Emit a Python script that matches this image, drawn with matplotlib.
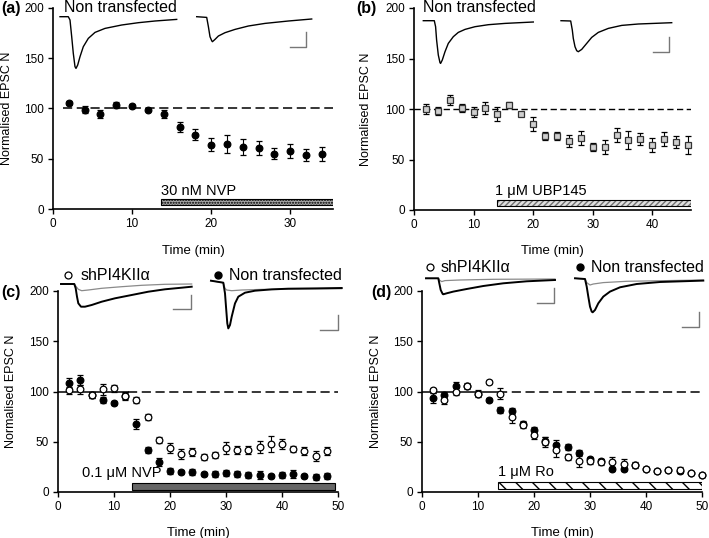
import numpy as np
import matplotlib
matplotlib.use('Agg')
import matplotlib.pyplot as plt
from matplotlib.patches import Rectangle

plt.rcParams['font.family'] = ['Liberation Sans', 'DejaVu Sans']
plt.rcParams['hatch.linewidth'] = 1.0

# ---- data ----
# (a) 30 nM NVP, non transfected
a_t = [2, 4, 6, 8, 10, 12, 14, 16, 18, 20, 22, 24, 26, 28, 30, 32, 34]
a_y = [105, 99, 95, 103, 102, 99, 95, 82, 74, 64, 65, 62, 61, 55, 58, 54, 55]
a_e = [2, 3, 4, 3, 2, 1.5, 4, 5, 5.5, 6.5, 9, 8, 7, 5.5, 7, 6, 7]

# (b) 1 uM UBP145, non transfected
b_t = [2, 4, 6, 8, 10, 12, 14, 16, 18, 20, 22, 24, 26, 28, 30, 32, 34, 36, 38, 40, 42, 44, 46]
b_y = [100, 98, 109, 101, 97, 101, 95, 104, 95, 85, 73, 73, 68, 71, 62, 62, 74, 69, 70, 64, 70, 67, 64]
b_e = [5, 4, 5, 4, 5, 6, 7, 3, 2, 7, 4, 4, 6, 7, 4, 7, 7, 9, 6, 7, 7, 6, 9]

# (c) 0.1 uM NVP
c_t = [2, 4, 6, 8, 10, 12, 14, 16, 18, 20, 22, 24, 26, 28, 30, 32, 34, 36, 38, 40, 42, 44, 46, 48]
c_sh = [101, 102, 97, 102, 103, 96, 92, 75, 52, 44, 38, 40, 35, 37, 44, 42, 42, 45, 48, 48, 43, 41, 36, 41]
c_sh_e = [3, 4, 3, 5, 3, 4, 3, 3, 3, 5, 5, 4, 3, 3, 6, 4, 4, 6, 8, 5, 3, 4, 5, 4]
c_nt = [108, 111, 97, 92, 89, 96, 68, 42, 30, 21, 20, 20, 18, 18, 19, 18, 17, 17, 16, 17, 18, 16, 15, 16]
c_nt_e = [5, 5, 3, 3, 2, 3, 5, 3, 4, 3, 2, 3, 2, 3, 3, 3, 3, 4, 2, 3, 4, 2, 3, 3]

# (d) 1 uM Ro
d_t = [2, 4, 6, 8, 10, 12, 14, 16, 18, 20, 22, 24, 26, 28, 30, 32, 34, 36, 38, 40, 42, 44, 46, 48, 50]
d_sh = [101, 92, 100, 105, 98, 109, 98, 75, 67, 57, 50, 42, 35, 31, 31, 30, 30, 28, 27, 23, 21, 22, 22, 19, 17]
d_sh_e = [2, 4, 3, 3, 3, 2, 5, 6, 3, 4, 5, 7, 3, 6, 3, 3, 5, 5, 3, 2, 2, 2, 3, 1, 2]
d_nt = [94, 97, 105, 105, 98, 92, 82, 81, 68, 62, 51, 47, 45, 39, 33, 31, 23, 23, 27, 23, 21, 22, 21, 19, 17]
d_nt_e = [5, 3, 4, 2, 2, 2, 3, 3, 3, 3, 4, 5, 3, 3, 2, 2, 2, 2, 2, 2, 2, 2, 2, 1, 2]

# example EPSC traces (time, current; arbitrary units)
tr_a1_t = [0, 8.3, 10, 11.7, 13.3, 15, 16, 17.7, 20, 23.3, 28.3, 35, 45, 61.7, 78.3, 95, 116.7]
tr_a1_i = [0, 0, -3.3, -20, -36.7, -50, -51.7, -48.3, -40, -30, -21.7, -15.7, -11.7, -8.3, -6, -4.3, -2.7]
tr_a2_t = [0, 10, 11.7, 13.3, 15, 15.7, 18.3, 21.7, 28.3, 38.3, 51.7, 68.3, 91.7, 115]
tr_a2_i = [0, -0.7, -10, -20, -24, -25, -22.7, -19.3, -16, -12.7, -9.3, -6.7, -4.3, -2.3]
tr_b1_t = [0, 11, 12.3, 13.3, 15, 16.7, 17.3, 19, 21.7, 25, 30, 35, 41.7, 51.7, 65, 81.7, 110]
tr_b1_i = [0, 0, -6, -19.3, -34.3, -42, -42.7, -39.3, -31, -22.7, -16, -11.7, -8.7, -6, -4, -2.7, -1.3]
tr_b2_t = [0, 9.7, 11.3, 12.3, 14, 15.7, 17.3, 20.7, 25.7, 30.7, 37.3, 47.3, 60.7, 77.3, 110.7]
tr_b2_i = [0, -0.3, -9.3, -17.7, -26, -30, -31, -28.7, -22.7, -16.7, -11.7, -7.7, -4.7, -3.3, -2]
tr_c1k_t = [0, 13.3, 14.7, 16, 17.3, 20, 24, 30.7, 40.7, 54, 70.7, 87.3, 104, 120.7, 130.7]
tr_c1k_i = [0, 0, -4.3, -12.7, -19.3, -22.7, -22.7, -21, -17.7, -14.3, -11, -7.7, -5.3, -3.7, -2.7]
tr_c1g_t = [0, 13.3, 14.7, 17.3, 20.7, 27.3, 40.7, 60.7, 80.7, 104, 130.7]
tr_c1g_i = [0, 0, -2, -5.3, -6.7, -6, -4.3, -2.7, -1.3, -0.3, 0]
tr_c2k_t = [0, 12.3, 14, 15, 16.3, 17.3, 19, 20.7, 24, 27.3, 34, 44, 60.7, 77.3, 104, 130.7]
tr_c2k_i = [0, -2, -12.7, -26, -42.7, -47.7, -44.3, -36, -22.7, -16, -12, -10, -8.7, -8, -7.7, -7.3]
tr_c2g_t = [0, 12.3, 14, 15.7, 20.7, 30.7, 50.7, 77.3, 130.7]
tr_c2g_i = [0, -2, -7.7, -9.3, -10, -9.3, -8.7, -8.3, -8]
tr_d1k_t = [0, 12.3, 13.3, 14.7, 16.7, 17.3, 20.7, 27.3, 40.7, 57.3, 77.3, 100.7, 129]
tr_d1k_i = [0, 0, -5, -11.7, -15.7, -16, -15, -13.3, -10.7, -7.7, -5, -3, -1.7]
tr_d1g_t = [0, 12.3, 13.3, 15.7, 19, 34, 67.3, 129]
tr_d1g_i = [0, 0, -1.7, -3.3, -2.3, -1.7, -1, -0.7]
tr_d2k_t = [0, 10, 11.7, 13.3, 15, 16.7, 17.7, 20, 23.3, 28.3, 35, 45, 61.7, 85, 128.3]
tr_d2k_i = [0, -0.7, -8.3, -18.3, -28.3, -33.3, -34, -31.7, -25, -18.3, -13.3, -9, -5.7, -3.7, -2.3]
tr_d2g_t = [0, 10, 11.7, 15, 18.3, 28.3, 51.7, 128.3]
tr_d2g_i = [0, -0.7, -4.3, -6.7, -5.7, -4.3, -3, -1.7]

W, H = 709, 538
fig = plt.figure(figsize=(W / 100, H / 100), dpi=100)


def make_axes(left, right, bottom, top, xmax, xticks):
    ax = fig.add_axes([left / W, 1 - bottom / H, (right - left) / W, (bottom - top) / H])
    ax.set_xlim(0, xmax)
    ax.set_ylim(0, 200)
    ax.spines['top'].set_visible(False)
    ax.spines['right'].set_visible(False)
    ax.spines['left'].set_linewidth(1.2)
    ax.spines['bottom'].set_linewidth(1.2)
    ax.set_xticks(xticks)
    ax.set_yticks([0, 50, 100, 150, 200])
    ax.tick_params(direction='out', length=3.5, width=1, labelsize=8.5, pad=3)
    ax.set_ylabel('Normalised EPSC N', fontsize=9)
    ax.set_xlabel('Time (min)', fontsize=9.5)
    ax.patch.set_alpha(0)
    return ax


def errpts(ax, t, y, e, marker, mfc, mec='black', ms=4.8, z=3):
    ax.errorbar(t, y, yerr=e, fmt=marker, ms=ms, mfc=mfc, mec=mec, mew=0.9,
                ecolor='black', elinewidth=0.8, capsize=2.4, capthick=0.8,
                zorder=z, clip_on=False)


# ---- (a) ----
ax = make_axes(53, 333, 209, 8, 35.4, [0, 10, 20, 30])
ax.plot([1.3, 35.4], [100, 100], color='black', lw=1.1, dashes=(6, 3), zorder=1)
ax.add_patch(Rectangle((13.7, 3.5), 35.4 - 13.7, 6.5, facecolor='#a8a8a8',
                       edgecolor='black', lw=0.8, hatch='......'))
ax.text(13.7, 11, '30 nM NVP', fontsize=10.5, va='bottom', ha='left')
errpts(ax, a_t, a_y, a_e, 'o', 'black')
ax.yaxis.set_label_coords(-0.143, 0.5)
ax.xaxis.set_label_coords(0.5, -0.18)

# ---- (b) ----
ax = make_axes(414, 691, 210, 8, 46.5, [0, 10, 20, 30, 40])
ax.plot([0, 46.5], [100, 100], color='black', lw=1.0, dashes=(4.5, 2.5), zorder=1)
ax.add_patch(Rectangle((13.9, 3.5), 46.5 - 13.9, 6.5, facecolor='#e0e0e0',
                       edgecolor='#707070', lw=0, hatch='//////'))
ax.add_patch(Rectangle((13.9, 3.5), 46.5 - 13.9, 6.5, fill=False,
                       edgecolor='black', lw=0.8))
ax.text(13.6, 12, '1 \u03bcM UBP145', fontsize=10.5, va='bottom', ha='left')
errpts(ax, b_t, b_y, b_e, 's', '#cfcfcf', mec='#333333', ms=4.5)
ax.yaxis.set_label_coords(-0.152, 0.5)
ax.xaxis.set_label_coords(0.5, -0.175)

# ---- (c) ----
ax = make_axes(58, 338, 492, 291, 50, [0, 10, 20, 30, 40, 50])
ax.plot([0, 12.5], [100, 100], color='black', lw=1.1, zorder=1)
ax.plot([12.5, 50], [100, 100], color='black', lw=1.1, dashes=(6, 3), zorder=1)
ax.add_patch(Rectangle((13.3, 2.3), 49.5 - 13.3, 6.7, facecolor='#666666',
                       edgecolor='black', lw=0.8))
ax.text(4.3, 12, '0.1 \u03bcM NVP', fontsize=10.5, va='bottom', ha='left', zorder=2)
errpts(ax, c_t, c_nt, c_nt_e, 'o', 'black', z=3)
errpts(ax, c_t, c_sh, c_sh_e, 'o', 'white', z=4)
ax.yaxis.set_label_coords(-0.146, 0.5)
ax.xaxis.set_label_coords(0.5, -0.175)

# ---- (d) ----
ax = make_axes(422, 702, 492, 291, 50, [0, 10, 20, 30, 40, 50])
ax.plot([0, 13.5], [100, 100], color='black', lw=1.1, zorder=1)
ax.plot([13.5, 50], [100, 100], color='black', lw=1.1, dashes=(6, 3), zorder=1)
ax.add_patch(Rectangle((13.6, 3.4), 50 - 13.6, 6.6, facecolor='white',
                       edgecolor='black', lw=0.8, hatch='\\\\'))
ax.text(13.6, 13, '1 \u03bcM Ro', fontsize=10.5, va='bottom', ha='left')
errpts(ax, d_t, d_nt, d_nt_e, 'o', 'black', z=3)
errpts(ax, d_t, d_sh, d_sh_e, 'o', 'white', z=4)
ax.yaxis.set_label_coords(-0.143, 0.5)
ax.xaxis.set_label_coords(0.5, -0.175)

# ---- overlay in figure pixels: insets, legends, panel letters ----
ov = fig.add_axes([0, 0, 1, 1], zorder=10)
ov.set_xlim(0, W)
ov.set_ylim(H, 0)
ov.axis('off')


def trace(x0, y0, t, i, color='black', lw=1.0):
    ov.plot(x0 + np.array(t), y0 - np.array(i), color=color, lw=lw,
            solid_joinstyle='round')


def scalebar(x, y, w, h):
    ov.plot([x, x + w, x + w], [y, y, y - h], color='#777777', lw=1.0)


trace(60, 16.7, tr_a1_t, tr_a1_i)
trace(196.7, 16.7, tr_a2_t, tr_a2_i)
scalebar(290, 46.7, 15.7, 15)
trace(423.3, 20.7, tr_b1_t, tr_b1_i)
trace(561, 20.7, tr_b2_t, tr_b2_i)
scalebar(653.3, 51.7, 16, 14.4)

trace(61, 284, tr_c1g_t, tr_c1g_i, color='#8a8a8a', lw=0.9)
trace(61, 284, tr_c1k_t, tr_c1k_i, lw=1.4)
trace(211, 280.7, tr_c2g_t, tr_c2g_i, color='#8a8a8a', lw=0.9)
trace(211, 280.7, tr_c2k_t, tr_c2k_i, lw=1.4)
scalebar(173.3, 309.3, 17.7, 14.3)
scalebar(320, 330, 18.3, 15)

trace(426, 278.3, tr_d1g_t, tr_d1g_i, color='#8a8a8a', lw=0.9)
trace(426, 278.3, tr_d1k_t, tr_d1k_i, lw=1.4)
trace(575, 278.3, tr_d2g_t, tr_d2g_i, color='#8a8a8a', lw=0.9)
trace(575, 278.3, tr_d2k_t, tr_d2k_i, lw=1.4)
scalebar(536.7, 302.7, 17.6, 14.4)
scalebar(681.7, 326.7, 17.6, 15)

ov.text(64, 8, 'Non transfected', fontsize=11.5, va='center', ha='left')
ov.text(423, 8, 'Non transfected', fontsize=11.5, va='center', ha='left')

ov.plot(67.7, 275, 'o', mfc='white', mec='black', ms=5, mew=0.9)
ov.text(81, 275, 'shPI4KII\u03b1', fontsize=11.5, va='center', ha='left')
ov.plot(217.7, 275, 'o', mfc='black', mec='black', ms=5)
ov.text(229, 275, 'Non transfected', fontsize=11.5, va='center', ha='left')

ov.plot(430, 267.3, 'o', mfc='white', mec='black', ms=5, mew=0.9)
ov.text(441, 267.3, 'shPI4KII\u03b1', fontsize=11.5, va='center', ha='left')
ov.plot(580, 267.3, 'o', mfc='black', mec='black', ms=5)
ov.text(591, 267.3, 'Non transfected', fontsize=11.5, va='center', ha='left')

for lab, x, y in [('(a)', 1, 8), ('(b)', 356, 8), ('(c)', 1, 293), ('(d)', 371, 292)]:
    ov.text(x, y, lab, fontsize=11.5, fontweight='bold', va='center', ha='left')

fig.savefig('out.png', dpi=100, facecolor='white')
